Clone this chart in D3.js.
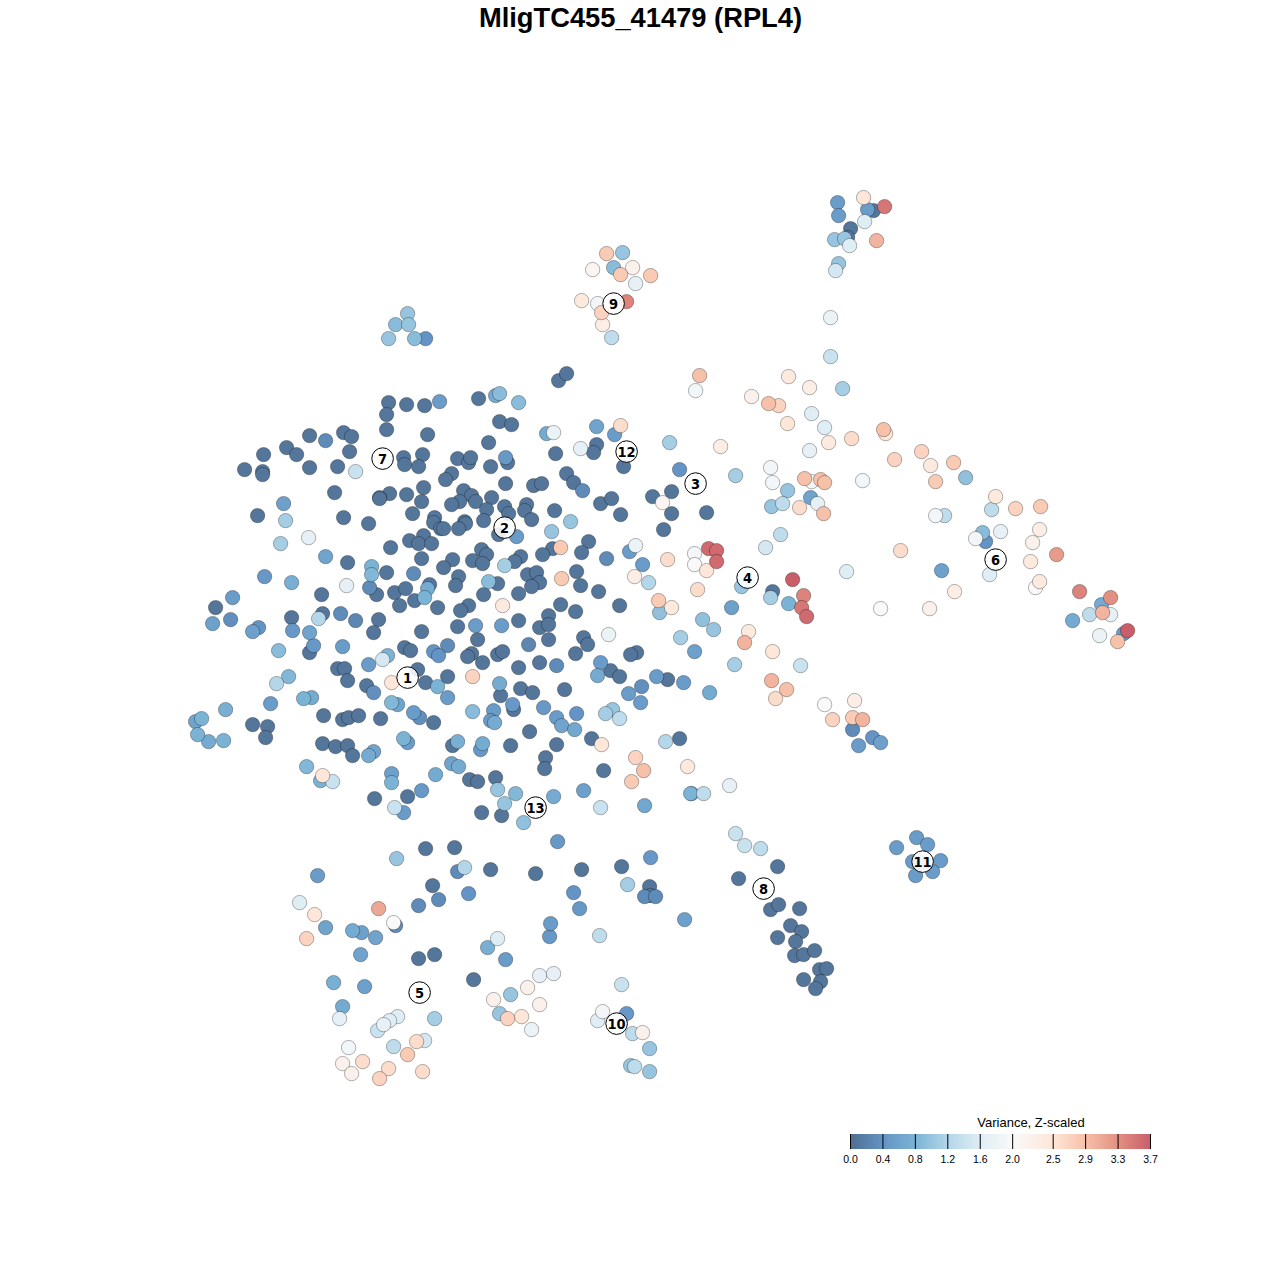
<!DOCTYPE html>
<html><head><meta charset="utf-8">
<style>html,body{margin:0;padding:0;background:#fff}svg{display:block}</style>
<script src="https://cdn.jsdelivr.net/npm/d3@7"></script>
</head><body><svg id="c" width="1280" height="1280"></svg>
<script>
// Embedding readings (x, y in plot units) with variance z-score.
const titleText = "MligTC455_41479 (RPL4)";
const legendTitle = "Variance, Z-scaled";
const tickValues = [0,0.4,0.8,1.2,1.6,2.0,2.5,2.9,3.3,3.7];
const palette = ["#506e90","#6494c5","#7bb3d5","#b3d6e8","#dfedf5","#f9f9f9","#fee6d8","#f7c0a8","#e29082","#c95d6a"];
const clusterIds = [1,2,3,4,5,6,7,8,9,10,11,12,13];
const clusterX = [407,504,695,747,419,995,382,763,613,616,922,626,535];
const clusterY = [677,527,483,577,992,559,458,888,303,1023,861,451,807];

const nearZeroCells = [[388,402],[406,404],[424,405],[386,414],[386,429],[427,434],[309,435],[343,432],[351,436],[263,454],[286,447],[296,454],[349,451],[244,469],[262,471],[262,474],[309,467],[337,466],[403,457],[404,464],[422,454],[418,466],[334,492],[389,493],[379,497],[379,498],[406,494],[423,487],[421,501],[412,513],[257,515],[343,517],[368,523],[434,517],[433,522],[440,528],[423,535],[409,540],[418,543],[431,543],[390,547],[421,558],[347,562],[386,572],[376,594],[321,594],[394,592],[405,588],[429,584],[414,600],[399,605],[437,607],[215,607],[291,617],[322,613],[378,619],[373,632],[421,631],[309,652],[404,647],[410,650],[337,668],[344,668],[347,680],[417,669],[366,685],[425,682],[433,722],[323,715],[342,719],[348,717],[358,715],[380,718],[252,724],[267,726],[265,737],[322,743],[335,746],[347,745],[352,755],[374,798],[407,796],[425,848],
[478,398],[558,380],[566,373],[499,421],[511,424],[488,442],[596,444],[593,452],[555,453],[623,466],[457,458],[468,462],[470,457],[490,466],[507,462],[451,473],[445,479],[505,483],[566,473],[573,482],[533,485],[541,483],[463,490],[471,495],[491,497],[475,501],[459,501],[451,504],[486,509],[504,506],[508,513],[526,504],[524,510],[531,519],[554,510],[600,503],[611,498],[620,514],[652,496],[671,491],[671,513],[663,529],[464,521],[465,523],[458,528],[443,528],[483,520],[498,534],[552,548],[588,541],[581,552],[542,554],[520,556],[514,561],[481,549],[486,554],[472,560],[482,563],[452,559],[443,567],[527,574],[536,572],[539,582],[531,586],[576,571],[580,585],[598,591],[458,576],[455,585],[497,583],[483,594],[518,593],[560,604],[575,611],[619,605],[468,605],[460,610],[457,626],[518,620],[548,615],[539,627],[548,624],[548,639],[477,639],[583,637],[587,644],[471,653],[467,656],[482,662],[497,654],[502,651],[575,653],[518,667],[539,662],[636,652],[630,654],[610,670],[619,676],[667,679],[447,676],[520,688],[532,692],[564,689],[500,695],[513,709],[529,731],[591,738],[679,738],[452,745],[510,745],[556,744],[545,757],[544,768],[603,770],[469,779],[477,781],[495,777],[481,812],[501,815],[454,847],[490,869],[535,873],[581,869],[621,866],[706,512],
[777,866],[738,878],[770,909],[778,904],[799,908],[790,925],[801,931],[795,941],[777,937],[794,955],[803,954],[814,950],[819,969],[826,968],[803,979],[820,981],[815,988],[873,210],[850,228],[847,237],[418,958],[434,954],[473,979],[649,886],[650,895],[432,885],[772,591]];

const blueCells = [[439,401,.5],[325,440,.3],[283,503,.55],[325,556,.6],[264,576,.45],[291,582,.75],[371,566,.8],[371,574,.85],[413,573,.3],[369,587,.3],[427,588,.7],[424,597,.8],[232,597,.5],[230,619,.35],[212,623,.55],[258,627,.4],[252,631,.55],[340,613,.3],[355,620,.25],[292,630,.45],[309,632,.6],[278,650,.9],[313,645,.45],[342,646,.5],[433,651,.4],[438,655,.4],[387,655,.8],[368,664,.5],[288,676,.85],[373,692,.35],[437,686,.8],[391,702,.85],[397,704,.6],[413,712,.5],[419,717,.35],[270,703,.5],[303,698,.8],[311,697,.7],[225,709,.75],[201,718,.8],[195,721,.6],[197,734,.8],[208,741,.7],[223,740,.8],[373,751,.6],[368,755,.7],[403,738,.8],[407,742,.5],[306,766,.85],[320,780,.8],[391,773,.55],[391,782,.8],[435,774,.7],[421,790,.45],[403,812,.5],[396,858,1],
[475,625,.5],[501,625,.5],[528,644,.25],[447,645,.3],[556,665,.3],[600,662,.5],[597,675,.7],[656,676,.5],[683,682,.5],[641,686,.35],[628,693,.5],[640,702,.5],[499,683,.7],[447,697,.5],[493,710,.5],[512,704,.45],[543,707,.45],[576,713,.4],[472,711,.9],[490,720,.5],[494,722,.7],[556,717,.5],[561,725,.6],[574,729,.65],[612,709,1],[605,713,1.1],[457,741,.75],[482,743,.7],[480,749,.45],[451,763,.6],[458,766,.7],[497,789,1],[515,793,.85],[504,803,1],[553,796,.7],[583,790,.55],[644,805,.65],[690,793,.8],[523,822,.95],[557,841,.45],[650,857,.45],
[495,395,.7],[499,393,.9],[518,402,.9],[546,433,.7],[596,426,.6],[614,434,.5],[669,442,1.1],[679,469,.4],[505,457,.45],[582,490,.3],[516,536,.5],[551,531,1],[570,521,1],[606,558,.3],[629,551,.5],[642,564,.5],[488,581,.9],[659,612,.95]];

const paleLeftCells = [[355,471,1.4],[285,520,1.1],[280,543,1.1],[308,537,1.7],[346,585,1.7],[318,618,1.2],[382,659,1.5],[276,683,1.2],[391,682,2.5],[322,775,2.5],[332,781,1.4],[394,807,1.4],
[608,634,1.8],[680,637,1.1],[472,676,2.7],[619,718,1.3],[601,744,2.5],[665,741,1.2],[635,757,2.7],[643,770,2.9],[631,781,2.8],[687,766,2.4],[600,807,1.4],[464,867,1.2],
[553,432,1.8],[620,425,2.6],[580,448,1.7],[662,502,2.1],[560,547,2.8],[504,565,1.1],[635,545,1.8],[667,559,2.6],[561,578,2.8],[634,576,2.3],[648,582,1.2],[502,605,2.4],[658,600,2.8],[671,607,2.4],[694,553,1.9],[694,564,2]];

const rightCells = [[695,390,1.9],[699,375,2.9],[751,396,2.2],[768,403,2.9],[778,405,2.7],[788,376,2.4],[809,387,2.3],[842,388,1.1],[830,356,1.4],[830,317,1.8],[811,413,1.6],[787,423,2.5],[824,427,1.6],[828,442,2.4],[851,438,2.6],[809,450,1.7],[883,429,2.9],[885,433,2.5],[894,459,2.7],[921,451,2.7],[930,465,2.4],[953,462,2.8],[935,481,2.8],[965,477,.95],[862,480,1.9],[720,446,2.3],[735,475,1.1],[770,467,1.9],[772,482,1.9],[787,490,1],[804,478,2.9],[820,479,2.9],[824,482,2.9],[811,481,1.9],[771,506,1],[782,503,1.3],[799,507,2.6],[810,497,.6],[817,503,1.7],[823,513,2.9],[780,534,1.3],[765,547,1.5],[900,550,2.6],[846,571,1.6],[941,570,.55],[995,496,2.4],[991,509,1.3],[1015,508,2.7],[1040,506,2.8],[1039,529,2.3],[1032,542,2.2],[1030,561,2.4],[982,532,.9],[985,541,.4],[975,538,1.9],[1000,531,1.7],[935,515,1.9],[944,515,1.3],[989,574,1.6],[1056,554,3.2],[1039,581,2.4],[1035,587,2],[954,591,2.3],[929,608,2.2],[880,608,2],[1079,591,3.4],[1110,597,3.3],[1101,604,.7],[1102,612,3],[1110,614,1.7],[1089,614,1.3],[1072,620,.7],[1099,635,1.8],[1127,630,3.7],[1123,633,.5],[1117,641,2.9],
[708,548,3.6],[716,550,3.6],[716,561,3.6],[706,570,2.5],[697,589,2.6],[792,579,3.7],[803,595,3.4],[801,607,3.5],[806,616,3.6],[788,603,.8],[770,597,1.1],[741,586,1],[731,607,.55],[702,619,.95],[713,629,1],[748,631,2.4],[744,642,3],[694,651,.55],[734,664,1.1],[772,651,2.5],[800,665,1.4],[771,680,3],[786,689,2.9],[775,698,2.6],[709,692,.7],[824,704,2],[854,700,2.3],[852,717,2.8],[862,719,3],[832,719,2.7],[852,729,.3],[872,737,.4],[880,742,.55],[858,745,.5],[729,785,1.7],[703,793,1.3],[691,793,.7]];

const islandCells = [[735,833,1.4],[744,845,1.4],[760,848,1.3],[916,837,.5],[927,844,.5],[896,847,.5],[912,861,.5],[921,862,.5],[940,860,.5],[932,871,.5],[915,875,.5],[863,197,2.5],[884,206,3.5],[837,202,.5],[838,215,.5],[867,209,.5],[864,221,1.6],[834,239,1],[844,238,1],[849,245,1.6],[876,240,3],[838,263,1],[835,270,1.5],[606,253,2.8],[622,252,1],[592,269,2.1],[613,267,.9],[620,274,2.8],[632,267,2.2],[650,275,2.8],[635,283,1.7],[581,300,2.4],[597,303,1.9],[626,301,3.4],[601,312,2.7],[602,324,2.3],[611,337,1.3],[407,313,1],[395,324,.9],[408,324,1],[388,338,1],[414,338,.9],[425,338,.4]];

const lowerCells = [[457,871,.3],[627,884,1.1],[644,896,.3],[655,896,.3],[573,892,.4],[579,908,.45],[468,893,.4],[438,899,.3],[418,905,.3],[684,919,.55],[550,923,.5],[549,936,.45],[599,935,1.3],[317,875,.5],[299,902,1.6],[314,914,2.5],[378,908,3.1],[393,922,2],[395,925,.3],[325,927,.6],[352,930,.7],[361,932,.55],[375,937,.6],[306,938,2.7],[360,954,.6],[487,947,.75],[497,938,1.6],[505,959,.5],[333,982,.75],[364,986,.55],[342,1006,.7],[339,1018,1.7],[397,1016,1.6],[389,1020,1.6],[383,1024,1.7],[377,1030,1.4],[434,1018,1.1],[393,1046,1.3],[424,1040,1.5],[416,1041,2.6],[407,1054,2.8],[348,1047,1.9],[342,1063,2.2],[362,1061,2.6],[351,1073,2.2],[388,1068,2.6],[379,1078,2.7],[422,1071,2.6],[539,975,1.7],[553,973,1.7],[527,987,2.2],[510,994,1],[493,999,2.2],[539,1004,2.2],[499,1013,1],[507,1018,2.7],[521,1016,2.5],[531,1029,1.8],[621,984,1.4],[626,1013,.45],[602,1011,1.9],[597,1020,1.6],[632,1033,1.3],[642,1032,2.2],[649,1048,1],[630,1065,1],[634,1066,1.3],[649,1071,1]];

const svg = d3.select("#c");
const x = d3.scaleLinear().domain([0,1280]).range([0.6,1280.6]);
const y = d3.scaleLinear().domain([0,1280]).range([0.6,1280.6]);
const color = d3.scaleLinear().domain(tickValues).range(palette).clamp(true);
const legendX = d3.scaleLinear().domain([0,3.7]).range([850.5,1150.5]);

const cells = nearZeroCells.map(d=>[d[0],d[1],0.08])
  .concat(blueCells,paleLeftCells,rightCells,islandCells,lowerCells)
  .sort((a,b)=>d3.ascending(a[2],b[2]));

svg.append("g").selectAll("circle").data(cells).join("circle")
  .attr("cx",d=>x(d[0])).attr("cy",d=>y(d[1])).attr("r",7.2)
  .attr("fill",d=>color(d[2])).attr("stroke","#000").attr("stroke-opacity",.3).attr("stroke-width",1);

const labels = svg.append("g").selectAll("g").data(clusterIds).join("g")
  .attr("transform",(d,i)=>`translate(${x(clusterX[i])},${y(clusterY[i])})`);
labels.append("circle").attr("r",10.8).attr("fill","#fff").attr("fill-opacity",.88).attr("stroke","#000").attr("stroke-width",1);
labels.append("text").text(d=>d).attr("text-anchor","middle").attr("y",5.2)
  .attr("font-family","'DejaVu Sans'").style("font-stretch","condensed").attr("font-weight","bold").attr("font-size",14.5).attr("fill","#000");

svg.append("text").text(titleText).attr("x",640.5).attr("y",27).attr("text-anchor","middle")
  .attr("font-family","'Liberation Sans'").attr("font-weight","bold").attr("font-size",27.3).attr("fill","#000");

const defs = svg.append("defs");
const grad = defs.append("linearGradient").attr("id","lg");
tickValues.forEach((t,i)=>grad.append("stop").attr("offset",(t/3.7*100)+"%").attr("stop-color",palette[i]));
const leg = svg.append("g");
leg.append("rect").attr("x",legendX(0)).attr("y",1134).attr("width",legendX(3.7)-legendX(0)).attr("height",15).attr("fill","url(#lg)");
const axis = d3.axisBottom(legendX).tickValues(tickValues).tickSize(0).tickFormat(d3.format(".1f"));
const axG = leg.append("g").attr("transform","translate(-0.5,1149)").call(axis);
axG.select(".domain").remove();
axG.selectAll("text").attr("y",6.5).attr("font-family","'Liberation Sans'").attr("font-size",10.5).attr("fill","#000");
leg.append("g").selectAll("line").data(tickValues).join("line")
  .attr("x1",d=>legendX(d)).attr("x2",d=>legendX(d)).attr("y1",1134).attr("y2",1149).attr("stroke","#000").attr("stroke-width",1);
leg.append("text").text(legendTitle).attr("x",1031).attr("y",1127).attr("text-anchor","middle")
  .attr("font-family","'Liberation Sans'").attr("font-size",13).attr("fill","#000");
</script></body></html>
